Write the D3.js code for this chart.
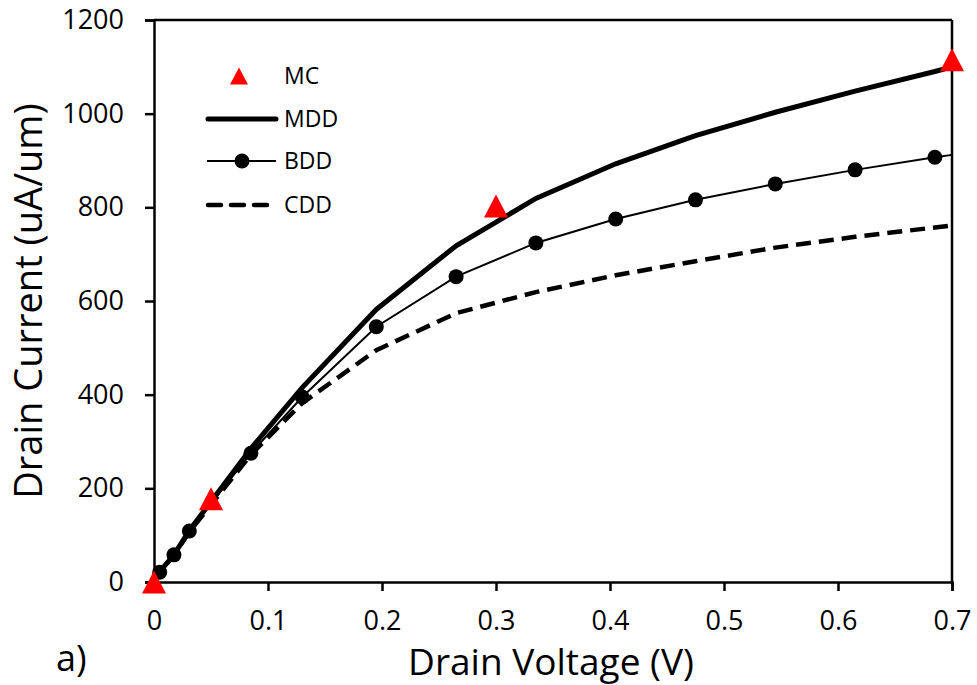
<!DOCTYPE html>
<html><head><meta charset="utf-8">
<script src="https://cdn.jsdelivr.net/npm/d3@7"></script>
<style>body{margin:0;background:#fff}svg{display:block}</style>
</head><body>
<svg id="c" width="977" height="685"></svg>
<script>
const xTicks = [0,0.1,0.2,0.3,0.4,0.5,0.6,0.7];
const yTicks = [0,200,400,600,800,1000,1200];
const mcX = [0,0.05,0.3,0.7];
const mcY = [0,178,803,1115];
const curveX = [0,0.005,0.0175,0.031,0.085,0.13,0.195,0.265,0.335,0.405,0.475,0.545,0.615,0.685,0.7];
const mddY = [0,22,58,110,285,415,582,718,819,893,953,1003,1048,1090,1100];
const bddY = [0,21,58,109,275,395,545,652,724,775,816,850,880,907,912];
const cddY = [0,21,57,107,272,382,495,574,619,655,685,714,737,757,761];
const bddMarkX = [0.005,0.0175,0.031,0.085,0.13,0.195,0.265,0.335,0.405,0.475,0.545,0.615,0.685];
const bddMarkY = [21,58,109,275,395,545,652,724,775,816,850,880,907];

const svg = d3.select("#c");
const m = {l:154, r:952, t:20, b:582};
const x = d3.scaleLinear().domain([0,0.7]).range([m.l,m.r]);
const y = d3.scaleLinear().domain([0,1200]).range([m.b,m.t]);
const font = "'Open Sans', sans-serif";

// frame
svg.append("line").attr("x1",m.l).attr("x2",m.r).attr("y1",m.t).attr("y2",m.t).attr("stroke","#000").attr("stroke-width",2.5);
svg.append("line").attr("x1",m.r).attr("x2",m.r).attr("y1",m.t).attr("y2",m.b).attr("stroke","#000").attr("stroke-width",2.5);

const xa = svg.append("g").attr("transform",`translate(0,${m.b})`)
  .call(d3.axisBottom(x).tickValues(xTicks).tickFormat(d=>String(d)).tickSizeOuter(0).tickSize(9).tickPadding(20));
const ya = svg.append("g").attr("transform",`translate(${m.l},0)`)
  .call(d3.axisLeft(y).tickValues(yTicks).tickFormat(d=>String(d)).tickSizeOuter(0).tickSize(9).tickPadding(21));
[xa,ya].forEach(a=>{
  a.selectAll("path,line").attr("stroke","#000").attr("stroke-width",2.5);
  a.selectAll("text").attr("font-family",font).attr("font-size",27).attr("fill","#000");
});

const pts = ys => curveX.map((v,i)=>[v,ys[i]]);
const line = d3.line().x(d=>x(d[0])).y(d=>y(d[1]));
svg.append("path").datum(pts(cddY)).attr("d",line).attr("fill","none").attr("stroke","#000").attr("stroke-width",4.5).attr("stroke-dasharray","15,8");
svg.append("path").datum(pts(bddY)).attr("d",line).attr("fill","none").attr("stroke","#000").attr("stroke-width",2);
svg.append("g").selectAll("circle").data(bddMarkX.map((v,i)=>[v,bddMarkY[i]])).join("circle")
  .attr("cx",d=>x(d[0])).attr("cy",d=>y(d[1])).attr("r",7.5).attr("fill","#000");
svg.append("path").datum(pts(mddY)).attr("d",line).attr("fill","none").attr("stroke","#000").attr("stroke-width",5);

const triPath = (w,h) => `M0,${-h/2}L${w/2},${h/2}L${-w/2},${h/2}Z`;
svg.append("g").selectAll("path").data(mcX.map((v,i)=>[v,mcY[i]])).join("path")
  .attr("d",triPath(24,23)).attr("transform",d=>`translate(${x(d[0])},${y(d[1])})`).attr("fill","#ff0000");

// legend
const lg = svg.append("g").attr("font-family",font).attr("font-size",23);
lg.append("path").attr("d",triPath(18,17)).attr("transform","translate(239,76)").attr("fill","#ff0000");
lg.append("line").attr("x1",208).attr("x2",276).attr("y1",119).attr("y2",119).attr("stroke","#000").attr("stroke-width",5).attr("stroke-linecap","round");
lg.append("line").attr("x1",207).attr("x2",276).attr("y1",161).attr("y2",161).attr("stroke","#000").attr("stroke-width",2);
lg.append("circle").attr("cx",242).attr("cy",161).attr("r",7.5).attr("fill","#000");
lg.append("line").attr("x1",208).attr("x2",276).attr("y1",205).attr("y2",205).attr("stroke","#000").attr("stroke-width",4.5).attr("stroke-dasharray","13,10").attr("stroke-linecap","round");
[["MC",76],["MDD",119],["BDD",161],["CDD",205]].forEach(([t,yy])=>{
  lg.append("text").attr("x",284).attr("y",yy).attr("dy","0.35em").text(t);
});

svg.append("text").attr("x",551).attr("y",675).attr("text-anchor","middle").attr("font-family",font).attr("font-size",37).text("Drain Voltage (V)");
svg.append("text").attr("transform","translate(42,301) rotate(-90)").attr("text-anchor","middle").attr("font-family",font).attr("font-size",38).text("Drain Current (uA/um)");
svg.append("text").attr("x",56).attr("y",671).attr("font-family",font).attr("font-size",36).text("a)");
</script>
</body></html>
